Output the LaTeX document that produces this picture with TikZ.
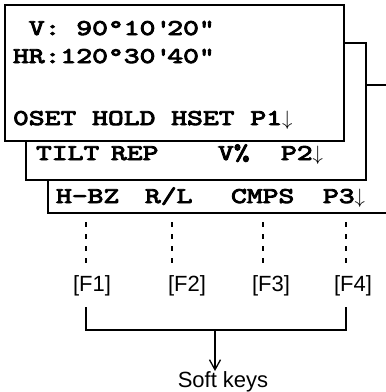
\documentclass[tikz,border=0pt]{standalone}
\usepackage{fontspec}
\usetikzlibrary{arrows.meta}
\newfontfamily\labelfont{Liberation Sans}
\newfontfamily\lcdfont{lmmono10-regular.otf}[FakeBold=4,FakeStretch=1.34]
\newcommand\lcd[1]{{\fontsize{22.5}{22.5}\lcdfont #1}}
\begin{document}
\begin{tikzpicture}[x=1pt,y=-1pt,
  screen/.style={draw, line width=2pt, fill=white, anchor=north west, inner sep=0pt, outer sep=0pt},
  word/.style={anchor=base west, inner sep=0pt, outer sep=0pt},
  key/.style={anchor=base, inner sep=0pt, outer sep=0pt, font=\labelfont\fontsize{22}{22}\selectfont},
  guide/.style={line width=2pt, dash pattern=on 4.5pt off 7.5pt},
  bracket/.style={line width=2pt},
  pointer/.style={line width=1.3pt, -{Straight Barb[length=10pt,width=11pt,line width=1.3pt]}}]
\useasboundingbox (0,0) rectangle (386,392);
\begin{scope}
\clip (0,0) rectangle (386,392);
\node[screen, minimum width=352pt, minimum height=128pt] (s3) at (48,85) {};
\node[screen, minimum width=340pt, minimum height=137pt] (s2) at (26,43) {};
\node[screen, minimum width=339pt, minimum height=136pt] (s1) at (5,5) {};
\end{scope}
% screen 1 text
\node[word] (l1) at (13,35) {\lcd{\hphantom{H}V: 90\textdegree10\textquotesingle20\textquotedbl}};
\node[word] (l2) at (13,63) {\lcd{HR:120\textdegree30\textquotesingle40\textquotedbl}};
\node[word] (l3) at (13,125) {\lcd{0SET HOLD HSET P1$\downarrow$}};
% screen 2 text
\node[word] (t1) at (36,160) {\lcd{TILT}};
\node[word] (t2) at (111,160) {\lcd{REP}};
\node[word] (t3) at (218,160) {\lcd{V\%}};
\node[word] (t4) at (281,160) {\lcd{P2$\downarrow$}};
% screen 3 text
\node[word] (u1) at (56,203) {\lcd{H-BZ}};
\node[word] (u2) at (145,203) {\lcd{R/L}};
\node[word] (u3) at (231,203) {\lcd{CMPS}};
\node[word] (u4) at (323,203) {\lcd{P3$\downarrow$}};
% guides
\coordinate (g1a) at (86,222); \coordinate (g1b) at (86,264);
\coordinate (g2a) at (172,222); \coordinate (g2b) at (172,264);
\coordinate (g3a) at (263,222); \coordinate (g3b) at (263,264);
\coordinate (g4a) at (346,222); \coordinate (g4b) at (346,264);
\draw[guide] (g1a) -- (g1b);
\draw[guide] (g2a) -- (g2b);
\draw[guide] (g3a) -- (g3b);
\draw[guide] (g4a) -- (g4b);
% keys
\node[key] (f1) at (92,291) {[F1]};
\node[key] (f2) at (187,291) {[F2]};
\node[key] (f3) at (271,291) {[F3]};
\node[key] (f4) at (353,291) {[F4]};
% bracket
\coordinate (b1) at (86,307);
\coordinate (b2) at (346,307);
\coordinate (bm) at (215,330);
\draw[bracket] (b1) |- (bm) -| (b2);
\node[key] (soft) at (223,387) {Soft keys};
\draw[pointer] (bm) -- (soft.north -| bm);
\end{tikzpicture}
\end{document}
